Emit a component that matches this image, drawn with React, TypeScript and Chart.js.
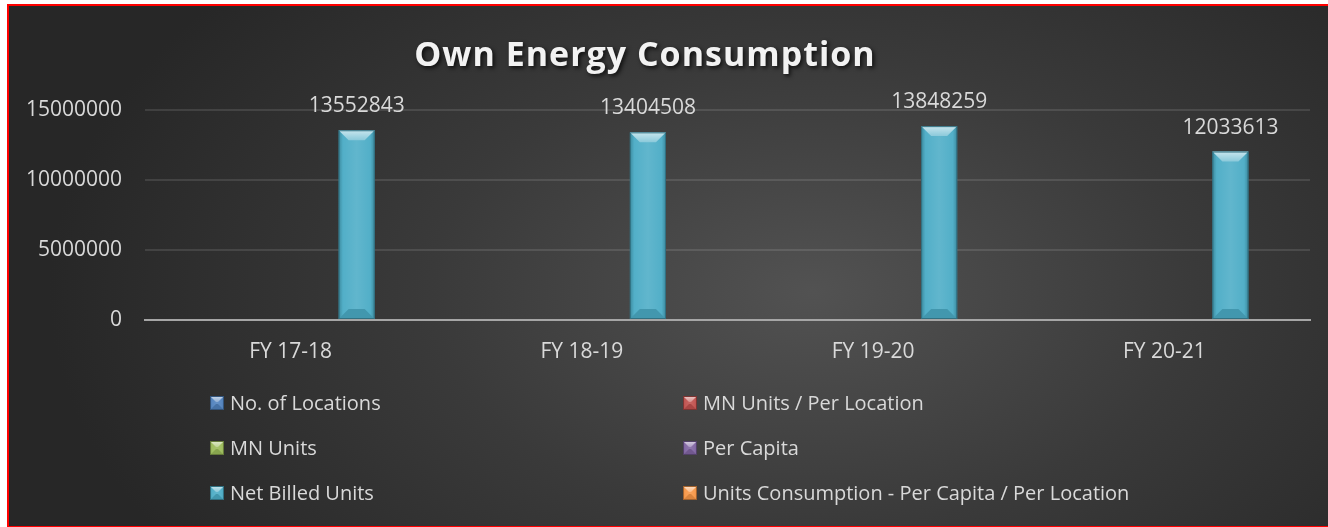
import React, { useEffect, useRef } from "react";
import { Chart, registerables } from "chart.js";

Chart.register(...registerables);

const chartTitle = "Own Energy Consumption";
const categories = ["FY 17-18", "FY 18-19", "FY 19-20", "FY 20-21"];
const seriesNames = [
  "No. of Locations",
  "MN Units / Per Location",
  "MN Units",
  "Per Capita",
  "Net Billed Units",
  "Units Consumption - Per Capita / Per Location",
];
const noOfLocations = [0, 0, 0, 0];
const mnUnitsPerLocation = [0, 0, 0, 0];
const mnUnits = [0, 0, 0, 0];
const perCapita = [0, 0, 0, 0];
const netBilledUnits = [13552843, 13404508, 13848259, 12033613];
const unitsConsumption = [0, 0, 0, 0];
const yTicks = [0, 5000000, 10000000, 15000000];
const seriesColors = ["#4f81bd", "#c0504d", "#9bbb59", "#8064a2", "#4bacc6", "#f79646"];
const labelledSeries = [4];

const FONT = "'Open Sans', 'DejaVu Sans', sans-serif";
const TEXT = "#d9d9d9";

function shade(hex: string, amt: number) {
  const n = parseInt(hex.slice(1), 16);
  let r = (n >> 16) & 255, g = (n >> 8) & 255, b = n & 255;
  const f = (c: number) => Math.max(0, Math.min(255, Math.round(amt >= 0 ? c + (255 - c) * amt : c * (1 + amt))));
  r = f(r); g = f(g); b = f(b);
  return `rgb(${r},${g},${b})`;
}

function drawBevelBox(ctx: CanvasRenderingContext2D, left: number, top: number, right: number, bottom: number, color: string, b: number) {
  const w = right - left;
  const h = bottom - top;
  if (w <= 0 || h <= 0) return;
  const bb = Math.min(b, w / 2, h / 2);
  const g = ctx.createLinearGradient(left, 0, right, 0);
  g.addColorStop(0, shade(color, -0.2));
  g.addColorStop(0.12, shade(color, 0.04));
  g.addColorStop(0.5, shade(color, 0.12));
  g.addColorStop(0.88, shade(color, 0.04));
  g.addColorStop(1, shade(color, -0.2));
  ctx.fillStyle = g;
  ctx.fillRect(left, top, w, h);
  const tg = ctx.createLinearGradient(0, top, 0, top + bb);
  tg.addColorStop(0, shade(color, 0.7));
  tg.addColorStop(1, shade(color, 0.35));
  ctx.fillStyle = tg;
  ctx.beginPath();
  ctx.moveTo(left, top);
  ctx.lineTo(right, top);
  ctx.lineTo(right - bb, top + bb);
  ctx.lineTo(left + bb, top + bb);
  ctx.closePath();
  ctx.fill();
  ctx.fillStyle = shade(color, -0.12);
  ctx.beginPath();
  ctx.moveTo(left, bottom);
  ctx.lineTo(right, bottom);
  ctx.lineTo(right - bb, bottom - bb);
  ctx.lineTo(left + bb, bottom - bb);
  ctx.closePath();
  ctx.fill();
  ctx.strokeStyle = shade(color, -0.35);
  ctx.lineWidth = 1;
  ctx.strokeRect(left + 0.5, top + 0.5, w - 1, h - 1);
}

const bevelPlugin = {
  id: "bevelBars",
  afterDatasetsDraw(chart: any) {
    const ctx = chart.ctx;
    ctx.save();
    chart.data.datasets.forEach((ds: any, i: number) => {
      const meta = chart.getDatasetMeta(i);
      if (meta.hidden) return;
      meta.data.forEach((el: any) => {
        const top = Math.min(el.y, el.base);
        const bottom = Math.max(el.y, el.base);
        if (bottom - top < 1) return;
        drawBevelBox(ctx, el.x - el.width / 2, top, el.x + el.width / 2, bottom, seriesColors[i], 10);
      });
    });
    ctx.restore();
  },
};

const valueLabelPlugin = {
  id: "valueLabels",
  afterDatasetsDraw(chart: any) {
    const ctx = chart.ctx;
    ctx.save();
    ctx.font = `21px ${FONT}`;
    ctx.fillStyle = TEXT;
    ctx.textAlign = "center";
    ctx.textBaseline = "middle";
    labelledSeries.forEach((i) => {
      const meta = chart.getDatasetMeta(i);
      meta.data.forEach((el: any, j: number) => {
        const v = chart.data.datasets[i].data[j];
        ctx.fillText(String(v), el.x, el.y - 24);
      });
    });
    ctx.restore();
  },
};

const titleLegendPlugin = {
  id: "titleLegend",
  afterDraw(chart: any) {
    const ctx = chart.ctx;
    ctx.save();
    ctx.font = `bold 34px ${FONT}`;
    (ctx as any).letterSpacing = "1px";
    ctx.textAlign = "center";
    ctx.textBaseline = "alphabetic";
    ctx.shadowColor = "rgba(0,0,0,0.75)";
    ctx.shadowBlur = 4;
    ctx.shadowOffsetX = 2;
    ctx.shadowOffsetY = 2;
    ctx.fillStyle = "#f2f2f2";
    ctx.fillText(chartTitle, 636, 60);
    ctx.shadowColor = "transparent";
    ctx.shadowBlur = 0;
    ctx.shadowOffsetX = 0;
    ctx.shadowOffsetY = 0;
    (ctx as any).letterSpacing = "0px";
    const colX = [201, 674];
    const rowY = [397, 442, 487];
    ctx.font = `20px ${FONT}`;
    ctx.textAlign = "left";
    ctx.textBaseline = "middle";
    chart.data.datasets.forEach((ds: any, i: number) => {
      const cx = colX[i % 2];
      const cy = rowY[Math.floor(i / 2)];
      drawBevelBox(ctx, cx, cy - 7, cx + 14, cy + 7, seriesColors[i], 6);
      ctx.fillStyle = TEXT;
      ctx.fillText(ds.label, cx + 20, cy + 1);
    });
    ctx.restore();
  },
};

export default function App() {
  const ref = useRef<HTMLCanvasElement | null>(null);
  useEffect(() => {
    if (!ref.current) return;
    const seriesValues = [noOfLocations, mnUnitsPerLocation, mnUnits, perCapita, netBilledUnits, unitsConsumption];
    const chart = new Chart(ref.current, {
      type: "bar",
      data: {
        labels: categories,
        datasets: seriesNames.map((name, i) => ({
          label: name,
          data: seriesValues[i],
          backgroundColor: "rgba(0,0,0,0)",
          borderWidth: 0,
          categoryPercentage: 0.907,
          barPercentage: 0.82,
        })),
      },
      options: {
        animation: false,
        responsive: false,
        maintainAspectRatio: false,
        layout: { padding: { top: 104, left: 0, right: 19, bottom: 160 } },
        plugins: {
          legend: { display: false },
          title: { display: false },
          tooltip: { enabled: false },
        },
        scales: {
          x: {
            grid: { display: false },
            border: { display: true, color: "#a6a6a6", width: 2 },
            ticks: { color: TEXT, font: { family: FONT, size: 21 }, padding: 11 },
            afterFit: (s: any) => { s.height = 45; },
          },
          y: {
            min: 0,
            max: 15000000,
            grid: { color: "rgba(255,255,255,0.11)", lineWidth: 2, drawTicks: false },
            border: { display: false },
            ticks: {
              color: TEXT,
              font: { family: FONT, size: 21 },
              padding: 23,
              callback: (v: any) => String(v),
            },
            afterBuildTicks: (s: any) => { s.ticks = yTicks.map((v) => ({ value: v })); },
            afterFit: (s: any) => { s.width = 136; },
          },
        },
      },
      plugins: [bevelPlugin, valueLabelPlugin, titleLegendPlugin],
    });
    return () => chart.destroy();
  }, []);

  return (
    <div
      style={{
        position: "fixed",
        left: 7,
        top: 4,
        width: 1340,
        height: 520,
        border: "2px solid #ff0000",
        background: "radial-gradient(ellipse 57% 90% at 60% 55%, #525252 0%, #3a3a3a 50%, #272727 100%)",
      }}
    >
      <canvas ref={ref} width={1320} height={519} style={{ display: "block" }} />
    </div>
  );
}
